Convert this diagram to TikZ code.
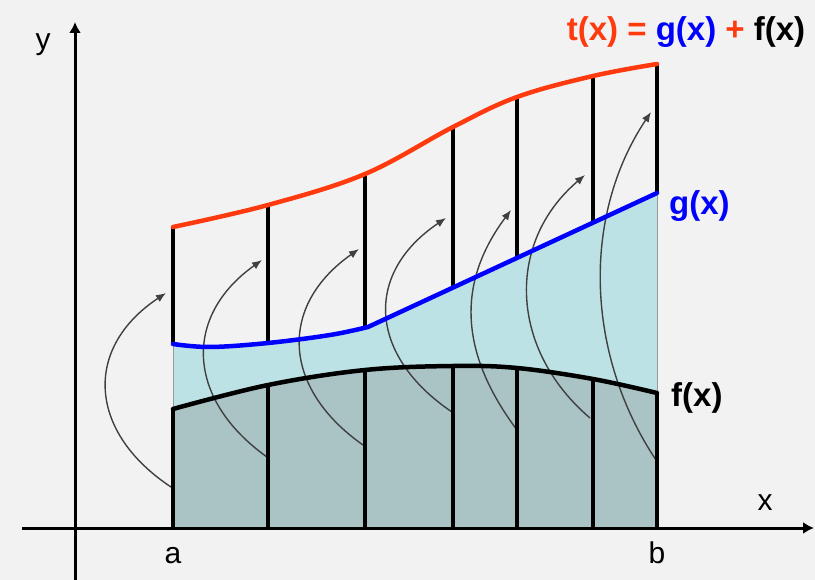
\documentclass[tikz,border=0pt]{standalone}
\usepackage{fontspec}
\setsansfont{Liberation Sans}
\usepackage{xcolor}
\usetikzlibrary{arrows.meta}

\definecolor{bgcol}{HTML}{F2F2F2}
\definecolor{lowfill}{HTML}{AAC3C4}
\definecolor{upfill}{HTML}{BCE2E5}
\definecolor{tred}{HTML}{FF3A0E}
\definecolor{gblue}{HTML}{0000FF}

\begin{document}
\begin{tikzpicture}[
  x=1pt, y=-1pt,
  font=\sffamily\fontsize{30}{36}\selectfont,
  lbl/.style={font=\sffamily\bfseries\fontsize{33}{40}\selectfont, inner sep=0pt},
  axlbl/.style={inner sep=0pt},
  axis/.style={line width=3pt, -{Latex[length=11pt,width=12pt]}},
  seg/.style={line width=3.5pt},
  curve/.style={line width=4.5pt, line cap=round},
  edge/.style={line width=1pt, draw=black!40},
  movearrow/.style={line width=1.4pt, draw=black!75, -{Latex[length=10pt,width=8pt]}}
]
\useasboundingbox[fill=bgcol] (0,0) rectangle (815,580);

% areas under g and f
\fill[upfill] (173,527) -- plot[smooth, tension=0.6] coordinates {(173,344) (210,347) (268,343) (330,335) (368,327)} -- (657,193) -- (657,527) -- cycle;
\fill[lowfill] (173,527) -- plot[smooth, tension=0.6] coordinates {(173,409) (268,385) (365,370) (453,366) (517,368) (593,379) (657,393)} -- (657,527) -- cycle;
\draw[edge] (173,344) -- (173,409) (657,193) -- (657,393);

% shifting arrows
\coordinate (s1) at (171,487); \coordinate (e1) at (166,293);
\coordinate (s2) at (267,457); \coordinate (e2) at (262,260);
\coordinate (s3) at (363,445); \coordinate (e3) at (359,249);
\coordinate (s4) at (452,412); \coordinate (e4) at (446,218);
\coordinate (s5) at (517,430); \coordinate (e5) at (511,210);
\coordinate (s6) at (590,418); \coordinate (e6) at (585,175);
\coordinate (s7) at (656,460); \coordinate (e7) at (651,112);
\draw[movearrow] (s1) .. controls +(-83,-55) and +(-83,55) .. (e1);
\draw[movearrow] (s2) .. controls +(-80,-57) and +(-80,57) .. (e2);
\draw[movearrow] (s3) .. controls +(-81,-57) and +(-81,57) .. (e3);
\draw[movearrow] (s4) .. controls +(-83,-56) and +(-83,56) .. (e4);
\draw[movearrow] (s5) .. controls +(-56,-75) and +(-56,75) .. (e5);
\draw[movearrow] (s6) .. controls +(-80,-68) and +(-80,68) .. (e6);
\draw[movearrow] (s7) .. controls +(-70,-105) and +(-70,105) .. (e7);

% f segments and their copies on top of g
\draw[seg] (173,527) -- (173,409) (268,527) -- (268,385) (365,527) -- (365,370)
  (453,527) -- (453,366) (517,527) -- (517,368) (593,527) -- (593,379) (657,527) -- (657,393);
\draw[seg] (173,344) -- (173,227) (268,343) -- (268,205) (365,327) -- (365,174)
  (453,288) -- (453,127) (517,258) -- (517,97) (593,223) -- (593,76) (657,193) -- (657,64);

% curves
\draw[curve, black] plot[smooth, tension=0.6] coordinates {(173,409) (268,385) (365,370) (453,366) (517,368) (593,379) (657,393)};
\draw[curve, gblue] plot[smooth, tension=0.6] coordinates {(173,344) (210,347) (268,343) (330,335) (368,327)} -- (657,193);
\draw[curve, tred] plot[smooth, tension=0.6] coordinates {(173,227) (268,205) (365,174) (453,127) (517,97) (593,76) (657,64)};

% axes
\draw[axis] (22,528) -- (814,528);
\draw[axis] (75,580) -- (75,22);
\node[axlbl] (ylab) at (43,45) {y};
\node[axlbl] (xlab) at (765,503) {x};
\node[axlbl] (alab) at (173,556) {a};
\node[axlbl] (blab) at (657,553) {b};

% labels
\node[lbl] (tlab) at (686,32) {\textcolor{tred}{t(x) =} \textcolor{gblue}{g(x)} \textcolor{tred}{+} f(x)};
\node[lbl, text=gblue, anchor=west] (glab) at (669,206) {g(x)};
\node[lbl, anchor=west] (flab) at (671,398) {f(x)};
\end{tikzpicture}
\end{document}
